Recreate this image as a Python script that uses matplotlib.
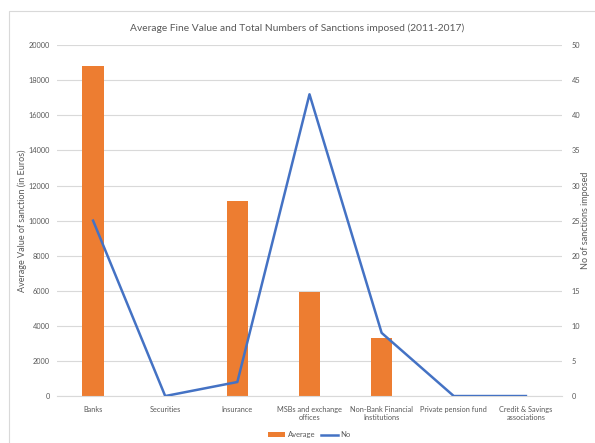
import matplotlib.pyplot as plt
from matplotlib.patches import Rectangle
import numpy as np

categories = ['Banks', 'Securities', 'Insurance', 'MSBs and exchange\noffices',
              'Non-Bank Financial\nInstitutions', 'Private pension fund',
              'Credit & Savings\nassociations']
average_fine = [18800, 0, 11100, 5950, 3300, 0, 0]
num_sanctions = [25, 0, 2, 43, 9, 0, 0]

plt.rcParams['font.family'] = ['Lato', 'DejaVu Sans']
grey = '#595959'

fig = plt.figure(figsize=(5.95, 4.43), dpi=100)
ax = fig.add_axes([0.0958, 0.106, 0.8487, 0.792])
x = np.arange(len(categories))

ax.bar(x, average_fine, width=0.3, color='#ED7D31', label='Average', zorder=2)
ax.set_ylim(0, 20000)
ax.set_yticks(np.arange(0, 20001, 2000))
ax.set_xlim(-0.5, len(categories) - 0.5)
ax.set_xticks(x)
ax.set_xticklabels(categories)
ax.grid(axis='y', color='#d9d9d9', linewidth=0.8, zorder=0)
ax.set_ylabel('Average Value of sanction (in Euros)', fontsize=6.5, color=grey)
ax.yaxis.set_label_coords(-0.06, 0.5)

ax2 = ax.twinx()
ax2.plot(x, num_sanctions, color='#4472C4', linewidth=1.8, label='No', zorder=3)
ax2.set_ylim(0, 50)
ax2.set_yticks(np.arange(0, 51, 5))
ax2.set_ylabel('No of sanctions imposed', fontsize=6.5, color=grey, rotation=90)
ax2.yaxis.set_label_coords(1.037, 0.5)

for a in (ax, ax2):
    for s in a.spines.values():
        s.set_visible(False)
    a.tick_params(length=0, labelsize=5.3, colors=grey, pad=7)
ax.tick_params(axis='y', pad=5)
ax.spines['bottom'].set_visible(True)
ax.spines['bottom'].set_color('#d9d9d9')

fig.suptitle('Average Fine Value and Total Numbers of Sanctions imposed (2011-2017)',
             fontsize=7.4, color=grey, y=0.948)

h1, l1 = ax.get_legend_handles_labels()
h2, l2 = ax2.get_legend_handles_labels()
fig.legend(h1 + h2, l1 + l2, loc='lower center', bbox_to_anchor=(0.52, -0.005),
           ncol=2, frameon=False, fontsize=5.5, labelcolor=grey,
           handlelength=2.2, handleheight=0.5, columnspacing=0.8, handletextpad=0.3)

fig.patches.append(Rectangle((9 / 595, -0.1), 1.2, 1 - 11 / 443 + 0.1,
                             transform=fig.transFigure, fill=False,
                             edgecolor='#d9d9d9', linewidth=0.8))

fig.savefig('out.png', dpi=100)
